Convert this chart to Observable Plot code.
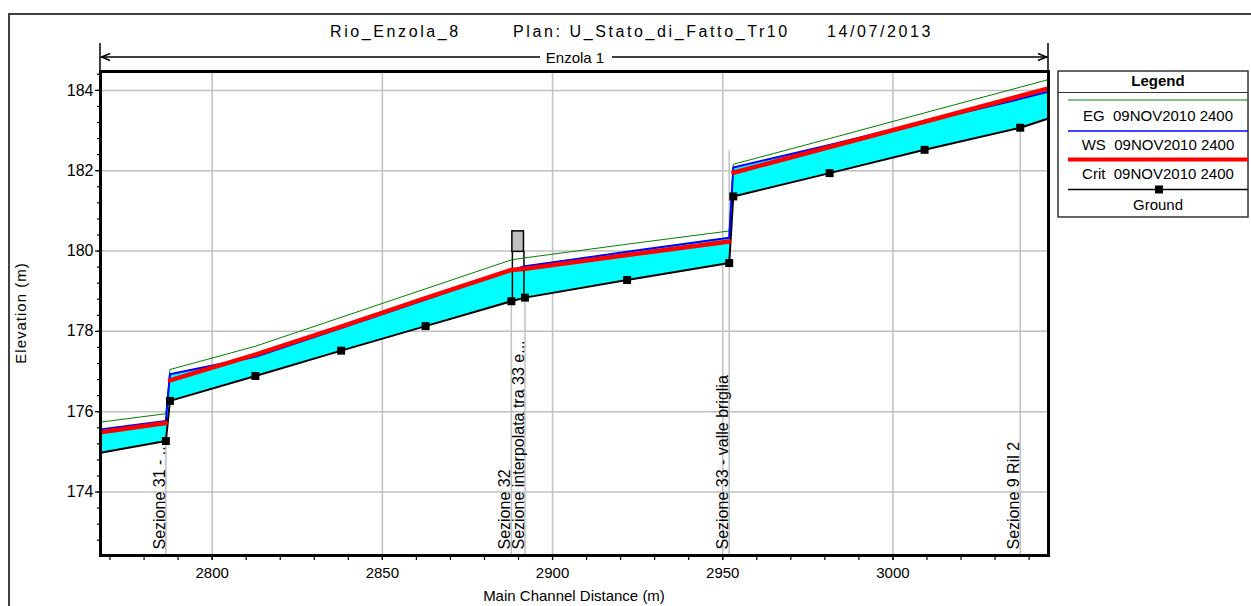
<!DOCTYPE html>
<html>
<head>
<meta charset="utf-8">
<script src="https://cdn.jsdelivr.net/npm/d3@7"></script>
<script src="https://cdn.jsdelivr.net/npm/@observablehq/plot@0.6"></script>
<style>
  html, body { margin: 0; padding: 0; background: white; }
  #wrap { position: relative; width: 1251px; height: 606px; overflow: hidden; font-family: "Liberation Sans", Arial, sans-serif; }
  #border { position: absolute; left: 8px; top: 13px; width: 1300px; height: 700px; border: 2px solid #404040; box-sizing: border-box; }
  #wrap svg { position: absolute; left: 0; top: 0; }
</style>
</head>
<body>
<div id="wrap"><div id="border"></div></div>
<script>
// ---- data ----
const station  = [2767.2, 2786.4, 2787.6, 2812.7, 2837.9, 2862.7, 2887.9, 2891.9, 2921.9, 2951.9, 2953.1, 2981.4, 3009.3, 3037.4, 3045.7];
const ground   = [174.98, 175.27, 176.27, 176.89, 177.52, 178.13, 178.75, 178.84, 179.28, 179.70, 181.36, 181.94, 182.52, 183.07, 183.30];
const ws       = [175.56, 175.77, 176.93, 177.37, 178.08, 178.79, 179.52, 179.62, 179.98, 180.33, 182.08, 182.64, 183.22, 183.79, 183.97];
const crit     = [175.49, 175.72, 176.78, 177.42, 178.12, 178.83, 179.53, 179.56, 179.90, 180.24, 181.95, 182.59, 183.22, 183.86, 184.05];
const eg       = [175.74, 175.95, 177.05, 177.63, 178.35, 179.06, 179.78, 179.83, 180.17, 180.50, 182.16, 182.80, 183.44, 184.08, 184.27];
const critReach = [0, 0, 1, 1, 1, 1, 1, 1, 1, 1, 2, 2, 2, 2, 2];
const hasMarker = [false, true, true, true, true, true, true, true, true, true, true, true, true, true, false];

const sectionX     = [2786.4, 2887.9, 2891.9, 2951.9, 3037.4];
const sectionTop   = [175.27, 178.75, 178.84, 182.5, 183.07];
const sectionLabel = ["Sezione 31 - ...", "Sezione 32", "Sezione interpolata tra 33 e...", "Sezione 33 - valle briglia", "Sezione 9 Ril 2"];

const structX      = [2888.2, 2891.6];
const structGround = [178.75, 178.84];
const structLow    = 179.98;
const structHigh   = 180.49;

const xDomain = [2767.2, 3045.7];
const yDomain = [172.42, 184.47];
const xTicks = [2800, 2850, 2900, 2950, 3000];
const yTicks = [174, 176, 178, 180, 182, 184];
const xMinor = d3.range(2770, 3045, 10);
const yMinor = d3.range(0, 30).map(i => +(172.8 + i * 0.4).toFixed(1));

// ---- tables ----
const rows = station.map((x, i) => ({x, ground: ground[i], ws: ws[i], crit: crit[i], eg: eg[i], reach: critReach[i], marker: hasMarker[i]}));
const sections = sectionX.map((x, i) => ({x, top: sectionTop[i], label: sectionLabel[i]}));
const deck = [{x1: structX[0], x2: structX[1], y1: structLow, y2: structHigh}];
const piers = structX.map((x, i) => ({x, g: structGround[i], low: structLow}));

const chart = Plot.plot({
  width: 1251, height: 606,
  marginLeft: 100, marginRight: 203, marginTop: 71, marginBottom: 51,
  x: {domain: xDomain},
  y: {domain: yDomain},
  style: {fontFamily: "Liberation Sans, Arial, sans-serif", background: "transparent", color: "black"},
  marks: [
    Plot.gridX(xTicks, {stroke: "#c0c0c0", strokeOpacity: 1, strokeWidth: 1.5}),
    Plot.gridY(yTicks, {stroke: "#c0c0c0", strokeOpacity: 1, strokeWidth: 1.5}),
    Plot.ruleX(sections, {x: "x", y1: yDomain[0], y2: "top", stroke: "#c0c0c0", strokeWidth: 1.5}),
    Plot.text(sections, {x: "x", text: "label", frameAnchor: "bottom", rotate: -90, textAnchor: "start", lineAnchor: "bottom", dx: -1, dy: -6, fontSize: 16, fill: "black"}),
    Plot.areaY(rows, {x: "x", y1: "ground", y2: "ws", fill: "#00ffff", clip: true}),
    Plot.line(rows, {x: "x", y: "ground", stroke: "black", strokeWidth: 2, clip: true}),
    Plot.ruleX(piers, {x: "x", y1: "g", y2: "low", stroke: "black", strokeWidth: 1.5}),
    Plot.rect(deck, {x1: "x1", x2: "x2", y1: "y1", y2: "y2", fill: "#c0c0c0", stroke: "black", strokeWidth: 1.5}),
    Plot.line(rows, {x: "x", y: "eg", stroke: "#008000", strokeWidth: 1, clip: true}),
    Plot.line(rows, {x: "x", y: "ws", stroke: "#0000ff", strokeWidth: 2, clip: true}),
    Plot.line(rows, {x: "x", y: "crit", z: "reach", stroke: "#ff0000", strokeWidth: 4.5, clip: true}),
    Plot.dot(rows.filter(d => d.marker), {x: "x", y: "ground", symbol: "square", r: 4.5, fill: "black", stroke: "none"}),
    Plot.frame({stroke: "black", strokeWidth: 3}),
    Plot.axisX(xMinor, {tickSize: 5, tickFormat: () => "", label: null, strokeWidth: 1.2}),
    Plot.axisX(xTicks, {tickSize: 5, tickPadding: 7, fontSize: 15, label: null, strokeWidth: 1.2, tickFormat: d => String(d)}),
    Plot.axisY(yMinor, {tickSize: 3, tickFormat: () => "", label: null, strokeWidth: 1.2}),
    Plot.axisY(yTicks, {tickSize: 5, tickPadding: 2, fontSize: 16, label: null, strokeWidth: 1.2, tickFormat: d => String(d)})
  ]
});
document.getElementById("wrap").appendChild(chart);

// ---- overlay: title, reach bar, axis titles, legend ----
const ov = d3.select("#wrap").append("svg")
  .attr("width", 1251).attr("height", 606)
  .style("font-family", "Liberation Sans, Arial, sans-serif");

const titleParts = [["Rio_Enzola_8", 330], ["Plan: U_Stato_di_Fatto_Tr10", 513], ["14/07/2013", 827]];
titleParts.forEach(([t, x]) => ov.append("text").attr("x", x).attr("y", 37).attr("font-size", 16)
  .attr("letter-spacing", "2.6px").text(t));

// reach bar
const rb = ov.append("g").attr("stroke", "black").attr("fill", "none").attr("stroke-width", 1.5);
rb.append("line").attr("x1", 100).attr("x2", 100).attr("y1", 43).attr("y2", 71);
rb.append("line").attr("x1", 1048).attr("x2", 1048).attr("y1", 43).attr("y2", 71);
rb.append("line").attr("x1", 101).attr("x2", 540).attr("y1", 57).attr("y2", 57);
rb.append("line").attr("x1", 612).attr("x2", 1047).attr("y1", 57).attr("y2", 57);
rb.append("polyline").attr("points", "110,53.5 101.5,57 110,60.5");
rb.append("polyline").attr("points", "1038,53.5 1046.5,57 1038,60.5");
ov.append("text").attr("x", 575).attr("y", 63).attr("text-anchor", "middle").attr("font-size", 15).text("Enzola 1");

// axis titles
ov.append("text").attr("transform", "translate(26,313) rotate(-90)").attr("text-anchor", "middle")
  .attr("font-size", 15).attr("letter-spacing", "1px").text("Elevation (m)");
ov.append("text").attr("x", 574).attr("y", 601).attr("text-anchor", "middle").attr("font-size", 15).text("Main Channel Distance (m)");

// legend
const lg = ov.append("g");
lg.append("rect").attr("x", 1058).attr("y", 71).attr("width", 190).attr("height", 146)
  .attr("fill", "white").attr("stroke", "#333").attr("stroke-width", 1.5);
lg.append("text").attr("x", 1158).attr("y", 86).attr("text-anchor", "middle").attr("font-size", 15).attr("font-weight", "bold").text("Legend");
lg.append("line").attr("x1", 1058).attr("x2", 1248).attr("y1", 92.5).attr("y2", 92.5).attr("stroke", "#333").attr("stroke-width", 1);
const legendItems = [
  {label: "EG  09NOV2010 2400", y: 100, stroke: "#008000", w: 1, ty: 121},
  {label: "WS  09NOV2010 2400", y: 131, stroke: "#0000ff", w: 1.5, ty: 150},
  {label: "Crit  09NOV2010 2400", y: 159.5, stroke: "#ff0000", w: 4, ty: 179},
  {label: "Ground", y: 189.5, stroke: "black", w: 1.5, ty: 210, marker: true}
];
legendItems.forEach(d => {
  lg.append("line").attr("x1", 1068).attr("x2", 1248).attr("y1", d.y).attr("y2", d.y)
    .attr("stroke", d.stroke).attr("stroke-width", d.w);
  if (d.marker) lg.append("rect").attr("x", 1155).attr("y", d.y - 4).attr("width", 8).attr("height", 8).attr("fill", "black");
  lg.append("text").attr("x", 1158).attr("y", d.ty).attr("text-anchor", "middle").attr("font-size", 15)
    .attr("xml:space", "preserve").style("white-space", "pre").text(d.label);
});
</script>
</body>
</html>
